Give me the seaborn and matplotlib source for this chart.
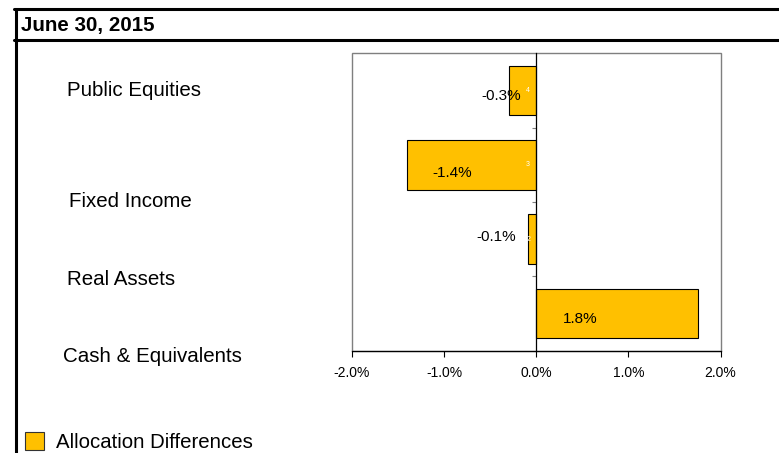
import matplotlib
matplotlib.use("Agg")
import matplotlib.pyplot as plt
from matplotlib.lines import Line2D
from matplotlib.patches import Rectangle, Patch
import seaborn as sns
import pandas as pd

# Allocation differences by asset class (percentage points)
categories = ["Public Equities", "Fixed Income", "Real Assets", "Cash & Equivalents"]
differences = [-0.30, -1.40, -0.09, 1.76]
rank_marks = ["4", "3", "2", ""]
x_ticks = [-2.0, -1.0, 0.0, 1.0, 2.0]
title = "June 30, 2015"
legend_label = "Allocation Differences"

BAR_COLOR = "#FFC000"
W, H = 779, 453

sns.set_style("white")
plt.rcParams["font.family"] = ["Liberation Sans", "DejaVu Sans"]
plt.rcParams["text.color"] = "black"
plt.rcParams["xtick.color"] = "black"
plt.rcParams["ytick.color"] = "black"


def fx(x):
    return x / W


def fy(y):
    return 1 - y / H


fig = plt.figure(figsize=(W / 100, H / 100), dpi=100)
ax = fig.add_axes([fx(352), fy(350.5), (720.5 - 352) / W, 297 / H])

df = pd.DataFrame({"category": categories, "difference": differences})
sns.barplot(data=df, x="difference", y="category", orient="h", color=BAR_COLOR,
            saturation=1, edgecolor="black", linewidth=0.8, width=0.665, ax=ax)

ax.set_xlim(-2, 2)
ax.set_ylim(len(categories) - 0.5, -0.5)
ax.set_xlabel("")
ax.set_ylabel("")

# Plot-area frame in grey, zero line carries the category axis
ax.add_patch(Rectangle((0, 0), 1, 1, transform=ax.transAxes, fill=False,
                       edgecolor="#7f7f7f", linewidth=1.0, clip_on=False, zorder=0.5))
for side in ("top", "right"):
    ax.spines[side].set_visible(False)
ax.spines["left"].set_position(("data", 0))
ax.spines["left"].set_color("black")
ax.spines["left"].set_linewidth(0.9)
ax.spines["bottom"].set_color("black")
ax.spines["bottom"].set_linewidth(0.9)

ax.set_yticks([i + 0.5 for i in range(len(categories) - 1)])
ax.set_yticklabels([])
ax.tick_params(axis="y", left=True, length=3, width=0.8, color="#7f7f7f", direction="out")

ax.set_xticks(x_ticks)
ax.set_xticklabels([f"{t:.1f}%" for t in x_ticks], fontsize=10, color="black")
ax.tick_params(axis="x", bottom=True, length=4, width=0.8, color="black",
               direction="out", pad=7)

# Value labels
label_x = [-0.38, -0.91, -0.44, 0.48]
label_dy = [0.127, 0.167, 0.026, 0.133]
for i, v in enumerate(differences):
    ax.text(label_x[i], i + label_dy[i], f"{v:.1f}%", ha="center", va="baseline",
            fontsize=11, color="black")
    if rank_marks[i]:
        ax.text(-0.09 if v < -0.2 else -0.08, i, rank_marks[i], ha="center",
                va="center", fontsize=5, color="white")

# Category names on the left
cat_x = [66.7, 69, 66.7, 63.3]
cat_base = [96, 206.7, 285.3, 361.7]
for name, cx, cb in zip(categories, cat_x, cat_base):
    fig.text(fx(cx), fy(cb), name, ha="left", va="baseline", fontsize=14.8,
             color="black")

# Title band and outer frame
fig.text(fx(21), fy(30.7), title, ha="left", va="baseline", fontsize=14.8,
         fontweight="bold", color="black")
lw = 2.2
fig.add_artist(Line2D([fx(14), fx(W)], [fy(8.5), fy(8.5)], color="black", lw=lw))
fig.add_artist(Line2D([fx(14), fx(W)], [fy(40), fy(40)], color="black", lw=lw))
fig.add_artist(Line2D([fx(15.5), fx(15.5)], [fy(9), fy(H)], color="black", lw=lw))

# Legend
handle = Patch(facecolor=BAR_COLOR, edgecolor="#333333", linewidth=0.8)
fig.legend([handle], [legend_label], loc="lower left",
           bbox_to_anchor=(fx(25), fy(452)), frameon=False, fontsize=14.7,
           labelcolor="black", borderpad=0, borderaxespad=0,
           handlelength=0.95, handleheight=0.95, handletextpad=0.55)

fig.savefig("out.png", dpi=100)
